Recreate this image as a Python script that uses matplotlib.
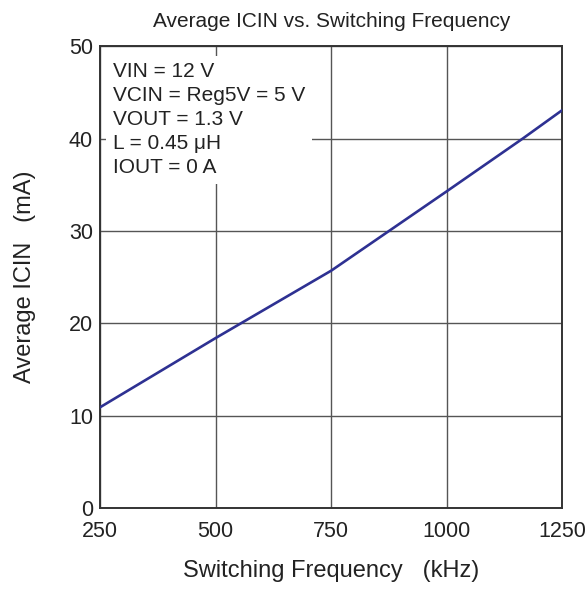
import matplotlib
matplotlib.use('Agg')
import matplotlib.pyplot as plt

plt.rcParams['font.family'] = ['Liberation Sans', 'DejaVu Sans']

# data
freq_khz = [250, 500, 750, 875, 1000, 1164, 1250]
icin_ma = [10.9, 18.4, 25.7, 30.0, 34.3, 40.0, 43.1]

x_ticks = [250, 500, 750, 1000, 1250]
y_ticks = [0, 10, 20, 30, 40, 50]
conditions = ['VIN = 12 V', 'VCIN = Reg5V = 5 V', 'VOUT = 1.3 V',
              'L = 0.45 \u03bcH', 'IOUT = 0 A']

fig = plt.figure(figsize=(5.88, 5.89), dpi=100)
ax = fig.add_axes([0.170, 0.1375, 0.7866, 0.784])

ax.plot(freq_khz, icin_ma, color='#2E3192', linewidth=1.9, zorder=3)

ax.set_xlim(250, 1250)
ax.set_ylim(0, 50)
ax.set_xticks(x_ticks)
ax.set_yticks(y_ticks)
ax.tick_params(length=0, labelsize=15.5, colors='#222222')
ax.tick_params(axis='x', pad=9)
ax.tick_params(axis='y', pad=5)
ax.grid(True, color='#555555', linewidth=1.0)
ax.set_axisbelow(True)
for s in ax.spines.values():
    s.set_color('#333333')
    s.set_linewidth(1.4)

ax.set_title('Average ICIN vs. Switching Frequency', fontsize=15, pad=14, color='#222222')
ax.set_xlabel('Switching Frequency   (kHz)', fontsize=17, labelpad=13, color='#222222')
ax.set_ylabel('Average ICIN   (mA)', fontsize=17, labelpad=24, color='#222222')

ax.text(0.028, 0.965, '\n'.join(conditions), transform=ax.transAxes,
        fontsize=15, va='top', ha='left', linespacing=1.33, color='#222222',
        bbox=dict(facecolor='white', edgecolor='none', pad=5), zorder=4)

fig.savefig('out.png', dpi=100)
